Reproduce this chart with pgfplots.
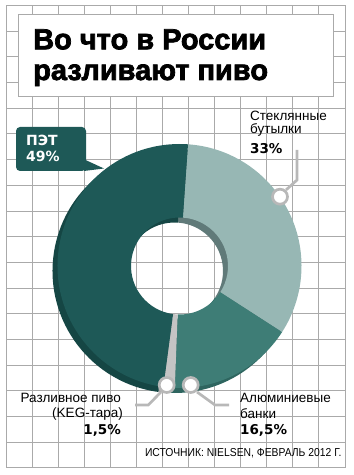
\documentclass[border=0pt]{standalone}
\usepackage{pgfplots}
\pgfplotsset{compat=1.18}
\usepackage{pgfplotstable}
\usepackage{fontspec}
\setmainfont{Liberation Sans}
\newfontfamily\titlefont[FakeBold=2.5]{Liberation Sans Bold}
\newfontfamily\numfont{DejaVu Sans}
\newfontfamily\srcfont[FakeStretch=0.9]{Liberation Sans}

\definecolor{gridgray}{RGB}{170,170,170}
\definecolor{petc}{RGB}{30,89,87}
\definecolor{petd}{RGB}{21,70,68}
\definecolor{glassc}{RGB}{151,183,180}
\definecolor{glassd}{RGB}{96,122,121}
\definecolor{aluc}{RGB}{62,125,118}
\definecolor{alud}{RGB}{46,101,95}
\definecolor{kegc}{RGB}{196,196,196}
\definecolor{kegd}{RGB}{165,165,165}
\definecolor{leader}{RGB}{184,184,184}

% shares, clockwise from the top: glass, aluminium, KEG, PET
\pgfplotstableread{
share
33
16.5
1.5
49
}\piedata

\def\Rout{122}
\def\Rin{48.5}
\def\startangle{86}

\newcommand\ringsector[5]{%
  \fill[#5] (axis cs:{#1+\Rout*cos(#3)},{#2+\Rout*sin(#3)})
    arc[start angle=#3,end angle=#4,radius=\Rout pt]
    -- (axis cs:{#1+\Rin*cos(#4)},{#2+\Rin*sin(#4)})
    arc[start angle=#4,end angle=#3,radius=\Rin pt] -- cycle;}

\begin{document}
\pgfplotstablegetelem{0}{share}\of\piedata \pgfmathsetmacro\aA{\startangle-3.6*\pgfplotsretval}%
\pgfplotstablegetelem{1}{share}\of\piedata \pgfmathsetmacro\aB{\aA-3.6*\pgfplotsretval}%
\pgfplotstablegetelem{2}{share}\of\piedata \pgfmathsetmacro\aC{\aB-3.6*\pgfplotsretval}%
\pgfplotstablegetelem{3}{share}\of\piedata \pgfmathsetmacro\aD{\aC-3.6*\pgfplotsretval}%
\begin{tikzpicture}
\begin{axis}[x=1pt,y=1pt,
  xmin=6.5,xmax=345,ymin=7,ymax=469.5,
  clip=false,
  axis line style={gridgray,line width=1pt},
  xtick=\empty, ytick=\empty,
]
% background grid
\pgfplotsinvokeforeach{1,...,12}{\draw[gridgray,line width=0.9pt] (axis cs:{6.5+26*#1},7) -- (axis cs:{6.5+26*#1},469.5);}
\pgfplotsinvokeforeach{1,...,17}{\draw[gridgray,line width=0.9pt] (axis cs:6.5,{7+25.7*#1}) -- (axis cs:345,{7+25.7*#1});}

% title box
\filldraw[fill=white,draw=gridgray,line width=1pt] (axis cs:18.3,460) rectangle (axis cs:333,378.3);
\node[anchor=base west,inner sep=0,font=\titlefont\fontsize{29}{31}\selectfont] at (axis cs:33,425.7) {Во что в России};
\node[anchor=base west,inner sep=0,font=\titlefont\fontsize{29}{31}\selectfont] at (axis cs:33,395) {разливают пиво};

% donut: shadow layer
\ringsector{174.5}{204}{\startangle}{\aA}{glassd}
\ringsector{174.5}{204}{\aA}{\aB}{alud}
\ringsector{174.5}{204}{\aB}{\aC}{kegd}
\ringsector{174.5}{204}{\aC}{\aD}{petd}
% donut: main layer
\ringsector{179.5}{209}{\startangle}{\aA}{glassc}
\ringsector{179.5}{209}{\aA}{\aB}{aluc}
\ringsector{179.5}{209}{\aB}{\aC}{kegc}
\ringsector{179.5}{209}{\aC}{\aD}{petc}

% PET callout
\fill[petc,rounded corners=4pt] (axis cs:16,348) rectangle (axis cs:86,304);
\fill[petc] (axis cs:84,315.7) -- (axis cs:104,306.5) -- (axis cs:84,304) -- cycle;
\node[anchor=base west,inner sep=0,text=white,font=\numfont\bfseries\fontsize{14}{16}\selectfont] at (axis cs:26,329.3) {ПЭТ};
\node[anchor=base west,inner sep=0,text=white,font=\numfont\bfseries\fontsize{14}{16}\selectfont] at (axis cs:26,313.3) {49\%};

% leaders
\draw[leader,line width=2.7pt] (axis cs:297,325) -- (axis cs:297,295) -- (axis cs:286,285);
\filldraw[draw=leader,fill=white,line width=2.7pt] (axis cs:280,278.3) circle[radius=7.5pt];
\draw[leader,line width=2.7pt] (axis cs:161,83) -- (axis cs:148.3,70) -- (axis cs:135,70);
\filldraw[draw=leader,fill=white,line width=2.7pt] (axis cs:166.7,90) circle[radius=7.5pt];
\draw[leader,line width=2.7pt] (axis cs:197,83) -- (axis cs:215,70) -- (axis cs:229,70);
\filldraw[draw=leader,fill=white,line width=2.7pt] (axis cs:190.7,90) circle[radius=7.5pt];

% labels
\node[anchor=base west,inner sep=0,font=\fontsize{13.5}{15}\selectfont] at (axis cs:250,354.3) {Стеклянные};
\node[anchor=base west,inner sep=0,font=\fontsize{13.5}{15}\selectfont] at (axis cs:250,341.5) {бутылки};
\node[anchor=base west,inner sep=0,font=\numfont\bfseries\fontsize{13.5}{15}\selectfont] at (axis cs:250,321.7) {33\%};

\node[anchor=base east,inner sep=0,font=\fontsize{13.5}{15}\selectfont] at (axis cs:121,72) {Разливное пиво};
\node[anchor=base east,inner sep=0,font=\fontsize{13.5}{15}\selectfont] at (axis cs:123,57) {(KEG-тара)};
\node[anchor=base east,inner sep=0,font=\numfont\bfseries\fontsize{13.5}{15}\selectfont] at (axis cs:121,41) {1,5\%};

\node[anchor=base west,inner sep=0,font=\fontsize{13.5}{15}\selectfont] at (axis cs:240,72) {Алюминиевые};
\node[anchor=base west,inner sep=0,font=\fontsize{13.5}{15}\selectfont] at (axis cs:240,56.7) {банки};
\node[anchor=base west,inner sep=0,font=\numfont\bfseries\fontsize{13.5}{15}\selectfont] at (axis cs:240,41) {16,5\%};

\node[anchor=base east,inner sep=0,font=\srcfont\fontsize{11.5}{13}\selectfont] at (axis cs:341.7,18.3) {ИСТОЧНИК: NIELSEN, ФЕВРАЛЬ 2012 Г.};

\coordinate (LL) at (axis cs:0,0);
\coordinate (UR) at (axis cs:354,475);
\end{axis}
\pgfresetboundingbox
\path (LL) rectangle (UR);
\end{tikzpicture}
\end{document}
